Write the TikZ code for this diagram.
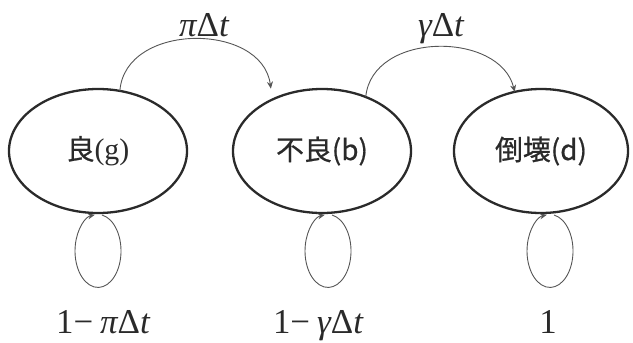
\documentclass[tikz,border=0pt]{standalone}
\usepackage{fontspec}
\setmainfont{Liberation Serif}
\newfontfamily\cjk{Noto Sans CJK JP}[BoldFont=Noto Sans CJK JP,BoldFeatures={FakeBold=0.7}]
\usetikzlibrary{arrows.meta,shapes.geometric}
\definecolor{ink}{HTML}{2A2A2A}
\definecolor{thin}{HTML}{555555}
\begin{document}
\begin{tikzpicture}[x=1bp,y=-1bp,
  state/.style={ellipse,draw=ink,line width=2.3bp,minimum width=178bp,minimum height=124bp,inner sep=0pt,outer sep=0pt,text=ink,font=\fontsize{28}{28}\selectfont},
  conn/.style={draw=thin,line width=0.9bp,-{Stealth[length=7bp,width=6bp]}},
  selfloop/.style={draw=thin,line width=0.9bp,-{Stealth[length=7bp,width=6bp]}},
  prob/.style={anchor=base,inner sep=0pt,text=ink,font=\fontsize{35}{35}\selectfont}]
\useasboundingbox (0,0) rectangle (633,342);
\node[state] (g) at (98,151) {{\cjk\bfseries 良}\fontsize{30}{30}\selectfont(g)};
\node[state] (b) at (322,151) {\cjk\bfseries 不良(b)};
\node[state,minimum width=174bp] (d) at (541,151) {\cjk\bfseries 倒壊(d)};
% transitions
\draw[conn,shorten >=11bp] (g.70) .. controls (125,22) and (262,22) .. (b.134);
\draw[conn] (b.51) .. controls (372,31) and (500,31) .. (d.114);
\node[prob] (lgb) at (204,36) {{\itshape π}Δ{\itshape t}};
\node[prob] (lbd) at (441,36) {{\itshape γ}Δ{\itshape t}};
% self loops
\draw[selfloop] ([xshift=4bp,yshift=-2bp]g.south) arc[x radius=23bp,y radius=36.5bp,start angle=80,end angle=-262];
\draw[selfloop] ([xshift=10bp,yshift=-2bp]b.south) arc[x radius=23bp,y radius=36.5bp,start angle=80,end angle=-262];
\draw[selfloop] ([xshift=13bp,yshift=-2bp]d.south) arc[x radius=23bp,y radius=36.5bp,start angle=80,end angle=-262];
\node[prob] (lg) at (103,333) {1−\hspace{0.2em}{\itshape π}Δ{\itshape t}};
\node[prob] (lb) at (318,333) {1−\hspace{0.2em}{\itshape γ}Δ{\itshape t}};
\node[prob] (ld) at (548,333) {1};
\end{tikzpicture}
\end{document}
